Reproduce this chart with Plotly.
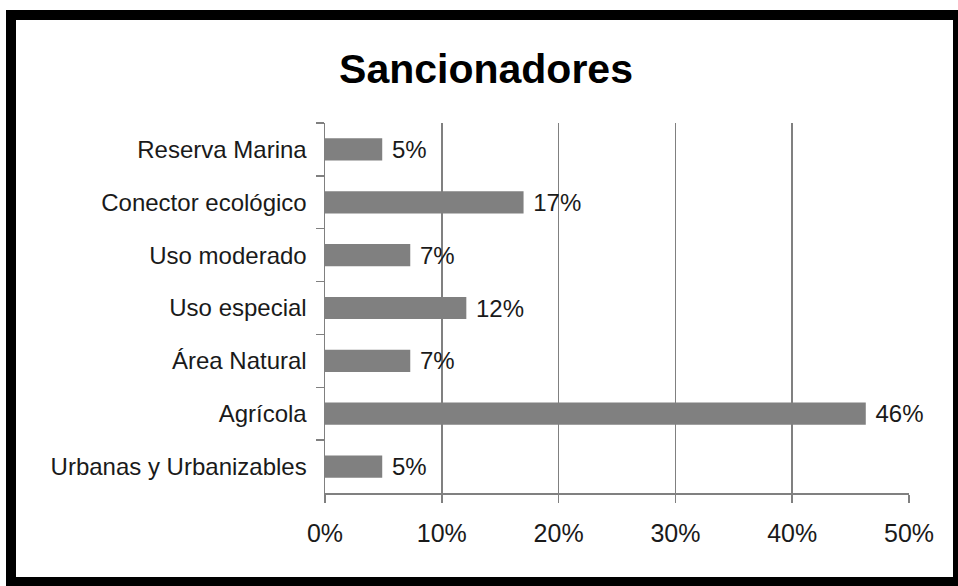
import plotly.graph_objects as go

# ---- data (top to bottom as shown) ----
categories = ["Reserva Marina", "Conector ecológico", "Uso moderado", "Uso especial",
              "Área Natural", "Agrícola", "Urbanas y Urbanizables"]
values = [0.049, 0.17, 0.073, 0.121, 0.073, 0.463, 0.049]
x_ticks = [0, 0.1, 0.2, 0.3, 0.4, 0.5]
title_text = "Sancionadores"

W, H = 958, 586
L, R, T, B = 325, 909, 123, 493  # plot area in pixels
GRAY = "#808080"
FONT = "Liberation Sans"


def px(x):
    return (x - L) / (R - L)


def py(y):
    return (B - y) / (B - T)


fig = go.Figure()
fig.add_trace(go.Bar(
    y=categories,
    x=values,
    orientation="h",
    marker=dict(color=GRAY, line=dict(width=0)),
    width=0.42,
    texttemplate=" %{x:.0%}",
    textposition="outside",
    constraintext="none",
    textfont=dict(family=FONT, size=24, color="#1a1a1a"),
    cliponaxis=False,
    hoverinfo="skip",
))

# frame around the chart (styling)
frame = [
    (6, 10, 16, 586),    # left
    (6, 10, 958, 20),    # top
    (953, 10, 958, 586), # right
    (6, 577, 958, 586),  # bottom
]
shapes = []
for x0, y0, x1, y1 in frame:
    shapes.append(dict(type="rect", xref="paper", yref="paper",
                       x0=px(x0), x1=px(x1), y0=py(y1), y1=py(y0),
                       fillcolor="black", line=dict(width=0), layer="above"))

fig.update_layout(
    width=W, height=H,
    margin=dict(l=L, r=W - R, t=T, b=H - B, pad=0),
    paper_bgcolor="white",
    plot_bgcolor="white",
    showlegend=False,
    shapes=shapes,
    title=dict(text=title_text, x=486 / W, xanchor="center",
               y=1 - 69 / H, yanchor="middle",
               font=dict(family=FONT, size=41, color="black", weight="bold")),
    xaxis=dict(
        range=[0, 0.5], tickvals=x_ticks, tickformat=".0%",
        showgrid=True, gridcolor=GRAY, gridwidth=1.5,
        zeroline=False, showline=True, linecolor=GRAY, linewidth=1.5,
        ticks="outside", ticklen=8, tickcolor=GRAY, tickwidth=1.5,
        ticklabelstandoff=9,
        tickfont=dict(family=FONT, size=25, color="#1a1a1a"),
        fixedrange=True,
    ),
    yaxis=dict(
        categoryorder="array", categoryarray=categories, autorange="reversed",
        showgrid=False, zeroline=False, showline=True, linecolor=GRAY, linewidth=1.5,
        ticks="outside", ticklen=8, tickcolor=GRAY, tickwidth=1.5,
        tickson="boundaries", ticklabelstandoff=12,
        tickfont=dict(family=FONT, size=24, color="#1a1a1a"),
        fixedrange=True,
    ),
)

fig.write_html(
    "out.html",
    config={"displayModeBar": False, "staticPlot": True},
    post_script="document.body.style.margin='0';document.body.style.overflow='hidden';",
)
